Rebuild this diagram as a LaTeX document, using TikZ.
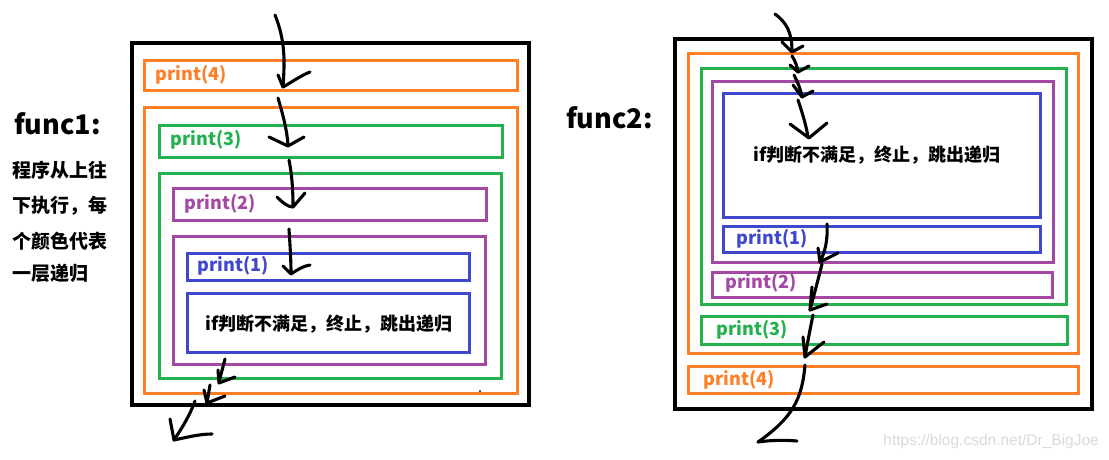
\documentclass[tikz,border=0pt]{standalone}
\usepackage{fontspec}
\newfontfamily\yh{Noto Sans CJK SC}
\newfontfamily\wm{Liberation Sans}
\definecolor{cOr}{HTML}{FF7F27}
\definecolor{cGr}{HTML}{22B14C}
\definecolor{cPu}{HTML}{A349A4}
\definecolor{cBl}{HTML}{3F48CC}
\definecolor{cWm}{HTML}{D9D9D9}
\tikzset{
  frame/.style={draw=black,line width=3.2pt},
  obox/.style={draw=cOr,line width=3pt},
  gbox/.style={draw=cGr,line width=3pt},
  pbox/.style={draw=cPu,line width=3pt},
  bbox/.style={draw=cBl,line width=3pt},
  lbl/.style={anchor=west,inner sep=0pt,font=\yh\bfseries\fontsize{18}{20}\selectfont},
  pen/.style={draw=black,line width=3.1pt,line cap=round,line join=round},
}
\begin{document}
\begin{tikzpicture}[x=1pt,y=-1pt]
\useasboundingbox (0,0) rectangle (1109,459);
% ---------- left: func1 ----------
\node[lbl,font=\yh\bfseries\fontsize{27}{30}\selectfont] (f1) at (14,124) {func1:};
\node[lbl,font=\yh\bfseries\fontsize{19}{21}\selectfont] (d1) at (12,170) {程序从上往};
\node[lbl,font=\yh\bfseries\fontsize{19}{21}\selectfont] (d2) at (12,206) {下执行，每};
\node[lbl,font=\yh\bfseries\fontsize{19}{21}\selectfont] (d3) at (12,241) {个颜色代表};
\node[lbl,font=\yh\bfseries\fontsize{19}{21}\selectfont] (d4) at (12,273) {一层递归};

\draw[frame] (132,43) rectangle (529,405);
\draw[obox] (144,60) rectangle (517,90);
\draw[obox] (144,107) rectangle (517,393);
\draw[gbox] (159,125) rectangle (502,157);
\draw[gbox] (159,173) rectangle (501,378);
\draw[pbox] (173,188) rectangle (486,220);
\draw[pbox] (173,236) rectangle (485,364);
\draw[bbox] (187,253) rectangle (469,280);
\draw[bbox] (187,293) rectangle (469,352);

\node[lbl,text=cOr] (l4) at (155,75) {print(4)};
\node[lbl,text=cGr] (l3) at (170,140) {print(3)};
\node[lbl,text=cPu] (l2) at (184,204) {print(2)};
\node[lbl,text=cBl] (l1) at (197,266) {print(1)};
\node[lbl,anchor=center] (lif) at (329,324) {if判断不满足，终止，跳出递归};
\fill (480,391) circle (1pt);

% left arrows
\draw[pen] (275,15) .. controls (285,40) and (285,60) .. (283,86);
\draw[pen] (278,75) -- (283,87) .. controls (292,82) and (300,76) .. (310,72);
\draw[pen] (278,98) .. controls (283,115) and (287,130) .. (288,145);
\draw[pen] (269,137) -- (288,146) -- (304,137);
\draw[pen] (289,160) .. controls (292,175) and (293,190) .. (293,206);
\draw[pen] (277,197) .. controls (283,203) and (288,207) .. (293,207) -- (305,193);
\draw[pen] (289,229) .. controls (290,245) and (291,260) .. (291,273);
\draw[pen] (283,266) -- (291,274) .. controls (297,270) and (303,266) .. (310,265);
\draw[pen] (225,359) -- (219,382);
\draw[pen] (218,370) -- (219,383) -- (235,377);
\draw[pen] (210,385) -- (207,403);
\draw[pen] (204,390) -- (207,403) -- (225,396);
\draw[pen] (195,401) .. controls (190,415) and (182,428) .. (174,440);
\draw[pen] (170,419) -- (174,440) .. controls (188,437) and (200,434) .. (212,434);

% ---------- right: func2 ----------
\node[lbl,font=\yh\bfseries\fontsize{27}{30}\selectfont] (f2) at (566,118) {func2:};

\draw[frame] (675,39) rectangle (1092,409);
\draw[obox] (688,53) rectangle (1078,353);
\draw[gbox] (701,68) rectangle (1066,304);
\draw[pbox] (712,81) rectangle (1053,262);
\draw[bbox] (723,93) rectangle (1040,217);
\draw[bbox] (723,226) rectangle (1040,252);
\draw[pbox] (712,272) rectangle (1052,297);
\draw[gbox] (701,316) rectangle (1067,344);
\draw[obox] (688,366) rectangle (1078,393);

\node[lbl,anchor=center] (rif) at (877,155) {if判断不满足，终止，跳出递归};
\node[lbl,text=cBl] (r1) at (736,239) {print(1)};
\node[lbl,text=cPu] (r2) at (725,283) {print(2)};
\node[lbl,text=cGr] (r3) at (716,330) {print(3)};
\node[lbl,text=cOr] (r4) at (703,380) {print(4)};

% right arrows
\draw[pen] (775,14) .. controls (786,22) and (792,32) .. (792,51);
\draw[pen] (782,42) -- (792,52) -- (803,46);
\draw[pen] (792,56) .. controls (796,62) and (797,67) .. (798,72);
\draw[pen] (790,65) -- (798,72) -- (809,66);
\draw[pen] (794,75) .. controls (798,83) and (801,90) .. (802,97);
\draw[pen] (793,85) -- (802,97) -- (813,91);
\draw[pen] (798,100) .. controls (803,115) and (806,125) .. (808,137);
\draw[pen] (790,124) -- (809,138) -- (827,123);
\draw[pen] (827,224) .. controls (828,240) and (825,252) .. (820,262);
\draw[pen] (818,248) -- (820,262) -- (838,253);
\draw[pen] (822,264) .. controls (818,280) and (814,295) .. (810,310);
\draw[pen] (812,287) -- (810,310) -- (827,304);
\draw[pen] (813,315) .. controls (810,330) and (807,345) .. (805,357);
\draw[pen] (803,337) -- (805,357) -- (824,342);
\draw[pen] (805,365) .. controls (802,400) and (792,418) .. (758,442);
\draw[pen] (758,442) .. controls (772,440) and (785,440) .. (797,441);

\node[anchor=east,inner sep=0pt,text=cWm,font=\wm\fontsize{15.5}{17}\selectfont] (wm) at (1099,441) {https://blog.csdn.net/Dr\_BigJoe};
\end{tikzpicture}
\end{document}
